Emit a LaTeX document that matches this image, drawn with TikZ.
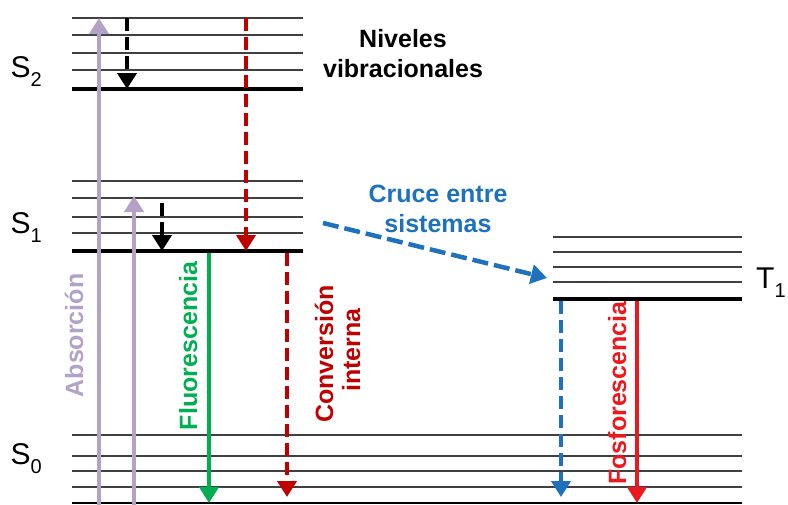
\documentclass[tikz,border=0pt]{standalone}
\usepackage{fontspec}
\setmainfont{Liberation Sans}
\usetikzlibrary{arrows.meta}

\definecolor{lav}{RGB}{179,162,199}
\definecolor{fgreen}{RGB}{0,176,80}
\definecolor{dred}{RGB}{192,0,0}
\definecolor{xblue}{RGB}{30,114,189}
\definecolor{bred}{RGB}{235,25,30}

\tikzset{
  vib/.style={line width=1.3pt, black!75},
  ground/.style={line width=4pt, black},
  trans/.style={line width=4.5pt, -{Triangle[width=19pt,length=16pt]}},
  dtrans/.style={trans, dash pattern=on 13pt off 6pt},
  lbl/.style={font=\bfseries\fontsize{25}{30}\selectfont, inner sep=0pt, anchor=base},
  state/.style={font=\fontsize{30}{30}\selectfont, inner sep=0pt, anchor=base west},
}
\newcommand{\lvlsub}[1]{\raisebox{-9pt}{\fontsize{20}{20}\selectfont #1}}

\begin{document}
\begin{tikzpicture}[x=1pt,y=-1pt]
\useasboundingbox (0,0) rectangle (788,504);

% ---- energy levels: S2, S1 (left), T1 (right), S0 (full width)
\foreach \y in {18,35,53,70} \draw[vib] (72,\y) -- (303,\y);
\draw[ground] (72,89) -- (303,89);
\foreach \y in {181,198,217,233} \draw[vib] (72,\y) -- (303,\y);
\draw[ground] (72,251) -- (303,251);
\foreach \y in {237,252,267,282} \draw[vib] (553,\y) -- (742,\y);
\draw[ground] (553,299) -- (742,299);
\foreach \y in {435,456,471,487} \draw[vib] (72,\y) -- (742,\y);
\draw[line width=2pt, black] (72,502.5) -- (742,502.5);

% ---- state labels
\node[state] (S2) at (10.5,77) {S\lvlsub{2}};
\node[state] (S1) at (10.5,233) {S\lvlsub{1}};
\node[state] (S0) at (10.5,464) {S\lvlsub{0}};
\node[state] (T1) at (756,288) {T\lvlsub{1}};

% ---- transition end points
\coordinate (a1s) at (99,506);   \coordinate (a1e) at (99,18);
\coordinate (a2s) at (134,506);  \coordinate (a2e) at (134,196);
\coordinate (v2s) at (127,18);   \coordinate (v2e) at (127,89);
\coordinate (v1s) at (162,203);  \coordinate (v1e) at (162,251);
\coordinate (ics) at (246,18);   \coordinate (ice) at (246,251);
\coordinate (fls) at (209,253);  \coordinate (fle) at (209,503);
\coordinate (cis) at (287,253);  \coordinate (cie) at (287,497);
\coordinate (iss) at (323,223);  \coordinate (ise) at (547,278);
\coordinate (tcs) at (561,301);  \coordinate (tce) at (561,497);
\coordinate (phs) at (637,301);  \coordinate (phe) at (637,503);

% ---- transitions
\draw[trans, lav] (a1s) -- (a1e);
\draw[trans, lav] (a2s) -- (a2e);
\draw[dtrans, black] (v2s) -- (v2e);
\draw[dtrans, black] (v1s) -- (v1e);
\draw[dtrans, dred] (ics) -- (ice);
\draw[trans, fgreen] (fls) -- (fle);
\draw[dtrans, dred] (cis) -- (cie);
\draw[trans, xblue, dash pattern=on 16pt off 6pt] (iss) -- (ise);
\draw[dtrans, xblue] (tcs) -- (tce);
\draw[trans, bred] (phs) -- (phe);

% ---- labels
\node[lbl] (niv1) at (403,47) {Niveles};
\node[lbl] (niv2) at (403,77) {vibracionales};
\node[lbl, xblue] (cru1) at (438,202) {Cruce entre};
\node[lbl, xblue] (cru2) at (438,232) {sistemas};
\node[lbl, lav, rotate=90] (abs) at (83,335.5) {Absorción};
\node[lbl, fgreen, rotate=90] (flu) at (197,346) {Fluorescencia};
\node[lbl, dred, rotate=90] (conv1) at (333,354) {Conversión};
\node[lbl, dred, rotate=90] (conv2) at (360,350) {interna};
\node[lbl, bred, rotate=90] (fos) at (626,393) {Fosforescencia};
\end{tikzpicture}
\end{document}
